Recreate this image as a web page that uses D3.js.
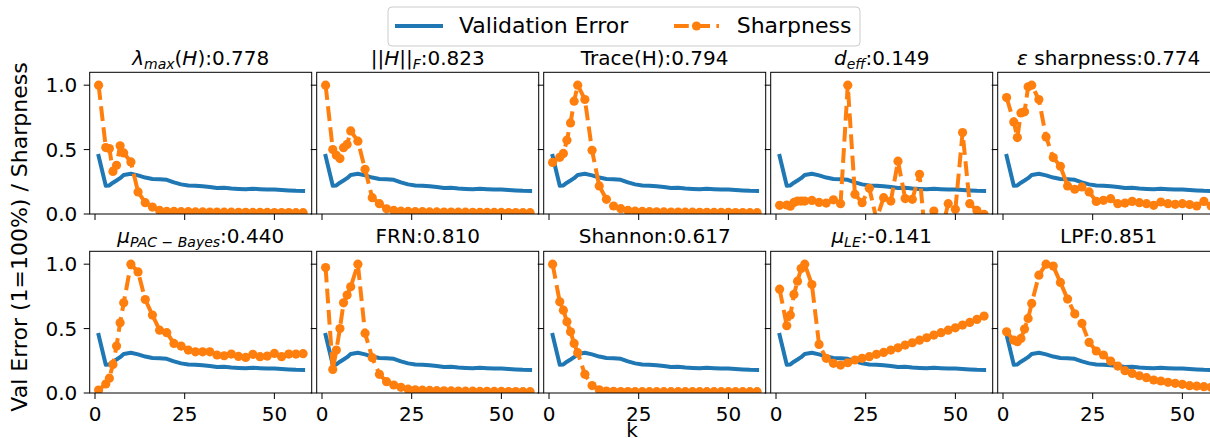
<!DOCTYPE html>
<html>
<head>
<meta charset="utf-8">
<script src="https://cdn.jsdelivr.net/npm/d3@7"></script>
<style>
  html, body { margin: 0; padding: 0; background: #fff; overflow: hidden; }
  text { font-family: "DejaVu Sans", sans-serif; fill: #000; white-space: pre; }
</style>
</head>
<body>
<svg id="chart" width="1210" height="438"></svg>
<script>
// k values shared by every panel
const kValues = [1, 3, 4, 5, 6, 7, 8, 10, 12, 14, 16, 18, 20, 22, 24, 26, 28, 30, 32, 34,
                 36, 38, 40, 42, 44, 46, 48, 50, 52, 54, 56, 58];

// Validation error (same curve in every panel)
const valError = [0.45, 0.22, 0.222, 0.243, 0.26, 0.278, 0.303, 0.312, 0.30, 0.283, 0.272, 0.27,
                  0.265, 0.245, 0.23, 0.222, 0.22, 0.215, 0.21, 0.202, 0.203, 0.198, 0.195, 0.192,
                  0.196, 0.193, 0.19, 0.19, 0.186, 0.183, 0.18, 0.179];

// Normalised sharpness of each measure
const sharpLambdaMax = [1.0, 0.516, 0.508, 0.33, 0.378, 0.53, 0.474, 0.404, 0.171, 0.088, 0.054, 0.028,
                        0.02, 0.02, 0.018, 0.018, 0.016, 0.016, 0.015, 0.015, 0.014, 0.014, 0.013, 0.013,
                        0.012, 0.012, 0.012, 0.011, 0.011, 0.011, 0.01, 0.01];
const sharpFrobenius = [1.0, 0.50, 0.456, 0.43, 0.515, 0.54, 0.645, 0.565, 0.347, 0.127, 0.08, 0.04,
                        0.028, 0.022, 0.02, 0.018, 0.018, 0.016, 0.016, 0.015, 0.015, 0.014, 0.014, 0.013,
                        0.013, 0.012, 0.012, 0.012, 0.011, 0.011, 0.01, 0.01];
const sharpTrace = [0.40, 0.44, 0.47, 0.573, 0.707, 0.876, 1.0, 0.889, 0.495, 0.218, 0.114, 0.062,
                    0.041, 0.028, 0.022, 0.02, 0.018, 0.017, 0.016, 0.015, 0.015, 0.014, 0.014, 0.013,
                    0.013, 0.012, 0.012, 0.012, 0.011, 0.011, 0.01, 0.01];
const sharpDeff = [0.067, 0.07, 0.06, 0.09, 0.1, 0.1, 0.1, 0.105, 0.09, 0.085, 0.11, 0.08,
                   1.0, 0.153, 0.088, 0.20, -0.04, 0.127, 0.10, 0.41, 0.12, 0.114, 0.308, -0.3,
                   0.023, -0.15, 0.08, 0.036, 0.632, 0.08, 0.028, -0.003];
const sharpEps = [0.904, 0.715, 0.593, 0.785, 0.793, 0.987, 1.0, 0.889, 0.598, 0.438, 0.37, 0.218,
                  0.192, 0.21, 0.171, 0.098, 0.106, 0.119, 0.08, 0.085, 0.098, 0.088, 0.08, 0.067,
                  0.093, 0.08, 0.075, 0.08, 0.073, 0.062, 0.098, 0.062];
const sharpPacBayes = [0.023, 0.07, 0.115, 0.222, 0.364, 0.545, 0.70, 1.0, 0.94, 0.726, 0.605, 0.488,
                       0.468, 0.385, 0.364, 0.333, 0.32, 0.32, 0.32, 0.295, 0.289, 0.302, 0.284, 0.276,
                       0.30, 0.282, 0.287, 0.307, 0.282, 0.302, 0.302, 0.305];
const sharpFrn = [0.974, 0.183, 0.333, 0.50, 0.70, 0.76, 0.824, 1.0, 0.463, 0.274, 0.145, 0.088,
                  0.062, 0.044, 0.03, 0.025, 0.022, 0.02, 0.018, 0.017, 0.016, 0.015, 0.014, 0.014,
                  0.013, 0.013, 0.012, 0.012, 0.011, 0.011, 0.01, 0.01];
const sharpShannon = [1.0, 0.708, 0.643, 0.553, 0.475, 0.385, 0.313, 0.145, 0.058, 0.025, 0.015, 0.012,
                      0.011, 0.011, 0.01, 0.01, 0.01, 0.01, 0.01, 0.01, 0.01, 0.01, 0.01, 0.01,
                      0.01, 0.01, 0.01, 0.01, 0.01, 0.01, 0.01, 0.01];
const sharpLe = [0.806, 0.522, 0.605, 0.765, 0.868, 0.966, 1.0, 0.842, 0.377, 0.269, 0.23, 0.217,
                 0.235, 0.256, 0.269, 0.282, 0.30, 0.315, 0.333, 0.351, 0.372, 0.39, 0.41, 0.429,
                 0.45, 0.468, 0.488, 0.506, 0.527, 0.548, 0.571, 0.597];
const sharpLpf = [0.475, 0.41, 0.398, 0.424, 0.496, 0.579, 0.695, 0.915, 1.0, 0.985, 0.858, 0.729,
                  0.615, 0.54, 0.393, 0.326, 0.295, 0.248, 0.209, 0.173, 0.152, 0.134, 0.119, 0.101,
                  0.093, 0.083, 0.075, 0.067, 0.057, 0.054, 0.049, 0.044];

// Correlation shown in each panel title
const correlations = [0.778, 0.823, 0.794, 0.149, 0.774, 0.440, 0.810, 0.617, -0.141, 0.851];

// Title pieces (it = italic, sub = subscript)
const titleParts = [
  [{t: "λ", it: 1}, {t: "max", it: 1, sub: 1}, {t: "("}, {t: "H", it: 1}, {t: ")"}],
  [{t: "||"}, {t: "H", it: 1}, {t: "||"}, {t: "F", it: 1, sub: 1}],
  [{t: "Trace(H)"}],
  [{t: "d", it: 1}, {t: "eff", it: 1, sub: 1}],
  [{t: "ε", it: 1}, {t: " sharpness"}],
  [{t: "μ", it: 1}, {t: "PAC − Bayes", it: 1, sub: 1}],
  [{t: "FRN"}],
  [{t: "Shannon"}],
  [{t: "μ", it: 1}, {t: "LE", it: 1, sub: 1}],
  [{t: "LPF"}]
];

const sharpSeries = [sharpLambdaMax, sharpFrobenius, sharpTrace, sharpDeff, sharpEps,
                     sharpPacBayes, sharpFrn, sharpShannon, sharpLe, sharpLpf];

const xTicks = [0, 25, 50];
const yTicks = [0.0, 0.5, 1.0];

const legendLabels = ["Validation Error", "Sharpness"];

// ---- layout ----
const blue = "#1f77b4", orange = "#ff7f0e";
const panelW = 222, panelH = 141.7;
const colLeft = [89.7, 316.7, 543.7, 770.7, 997.7];
const rowTop = [72.3, 251.3];

const svg = d3.select("#chart");

const x = d3.scaleLinear().domain([-1.48, 60.4]).range([0, panelW]);
const y = d3.scaleLinear().domain([0, 1.1]).range([panelH, 0]);

const valLine = d3.line().x((d, i) => x(kValues[i])).y(d => y(d));
const fmtCorr = v => d3.format(".3f")(v).replace("−", "-");

const defs = svg.append("defs");
defs.append("clipPath").attr("id", "plotClip")
  .append("rect").attr("x", 0).attr("y", 0).attr("width", panelW).attr("height", panelH);

sharpSeries.forEach((series, idx) => {
  const row = Math.floor(idx / 5), col = idx % 5;
  const g = svg.append("g").attr("transform", `translate(${colLeft[col]},${rowTop[row]})`);

  // plotted data, clipped to the axes box
  const plot = g.append("g").attr("clip-path", "url(#plotClip)");
  plot.append("path").datum(valError)
    .attr("d", valLine)
    .attr("fill", "none").attr("stroke", blue).attr("stroke-width", 4)
    .attr("stroke-linejoin", "round").attr("stroke-linecap", "square");

  plot.append("path").datum(series)
    .attr("d", valLine)
    .attr("fill", "none").attr("stroke", orange).attr("stroke-width", 4)
    .attr("stroke-dasharray", "14.8,6.4").attr("stroke-linejoin", "round");

  plot.selectAll("circle").data(series).join("circle")
    .attr("cx", (d, i) => x(kValues[i])).attr("cy", d => y(d))
    .attr("r", 4.6).attr("fill", orange);

  // frame
  g.append("rect").attr("x", 0).attr("y", 0).attr("width", panelW).attr("height", panelH)
    .attr("fill", "none").attr("stroke", "#000").attr("stroke-width", 1);

  // x ticks
  const xa = g.append("g");
  xTicks.forEach(t => {
    xa.append("line").attr("x1", x(t)).attr("x2", x(t))
      .attr("y1", panelH).attr("y2", panelH + 6).attr("stroke", "#000").attr("stroke-width", 1);
    if (row === 1) {
      xa.append("text").attr("x", x(t)).attr("y", panelH + 27.7)
        .attr("text-anchor", "middle").attr("font-size", 20).text(t);
    }
  });

  // y ticks
  yTicks.forEach(t => {
    g.append("line").attr("x1", -6).attr("x2", 0).attr("y1", y(t)).attr("y2", y(t))
      .attr("stroke", "#000").attr("stroke-width", 1);
    if (col === 0) {
      g.append("text").attr("x", -12.4).attr("y", y(t)).attr("dy", "0.36em")
        .attr("text-anchor", "end").attr("font-size", 20).text(d3.format(".1f")(t));
    }
  });

  // title with italic / subscript parts
  const title = g.append("text").attr("x", panelW / 2).attr("y", row === 0 ? -7.5 : -8.3)
    .attr("text-anchor", "middle").attr("font-size", 20);
  let shifted = false;
  titleParts[idx].forEach(p => {
    const ts = title.append("tspan").text(p.t);
    if (p.it) ts.attr("font-style", "italic");
    if (p.sub) { ts.attr("font-size", 14).attr("dy", 4); shifted = true; }
    else if (shifted) { ts.attr("dy", -4); shifted = false; }
  });
  const tail = title.append("tspan").text(":" + fmtCorr(correlations[idx]));
  if (shifted) tail.attr("dy", -4);
});

// axis labels
svg.append("text").attr("transform", "translate(26.5,237) rotate(-90)")
  .attr("text-anchor", "middle").attr("font-size", 22).text("Val Error (1=100%) / Sharpness");
svg.append("text").attr("x", 632).attr("y", 437.3)
  .attr("text-anchor", "middle").attr("font-size", 20).text("k");

// legend
const lg = svg.append("g");
lg.append("rect").attr("x", 388).attr("y", 7).attr("width", 472).attr("height", 39)
  .attr("rx", 4).attr("fill", "#fff").attr("fill-opacity", 0.8)
  .attr("stroke", "#cccccc").attr("stroke-width", 1);
lg.append("line").attr("x1", 395).attr("x2", 443).attr("y1", 26).attr("y2", 26)
  .attr("stroke", blue).attr("stroke-width", 4);
lg.append("text").attr("x", 459).attr("y", 33.3).attr("font-size", 22).text(legendLabels[0]);
lg.append("line").attr("x1", 674).attr("x2", 719).attr("y1", 26).attr("y2", 26)
  .attr("stroke", orange).attr("stroke-width", 4).attr("stroke-dasharray", "14.8,6.4");
lg.append("circle").attr("cx", 696.5).attr("cy", 26).attr("r", 4.6).attr("fill", orange);
lg.append("text").attr("x", 736.7).attr("y", 33.3).attr("font-size", 22).text(legendLabels[1]);
</script>
</body>
</html>
